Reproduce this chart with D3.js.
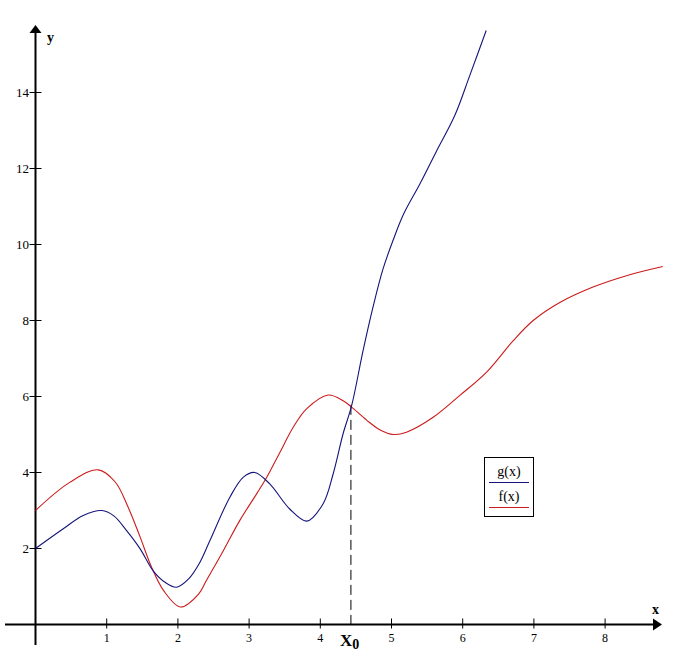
<!DOCTYPE html>
<html>
<head>
<meta charset="utf-8">
<script src="https://cdn.jsdelivr.net/npm/d3@7"></script>
<style>
  body { margin: 0; background: #fff; }
  svg { display: block; }
  .lbl { font-family: "Liberation Serif", "Times New Roman", serif; fill: #000; }
</style>
</head>
<body>
<div id="chart"></div>
<script>
// g(x), blue curve
var gX = [0, 0.39, 0.67, 0.93, 1.10, 1.28, 1.47, 1.65, 1.82, 1.98, 2.15, 2.31, 2.45, 2.73, 2.92, 3.08,
  3.29, 3.57, 3.81, 4.04, 4.18, 4.32, 4.44, 4.60, 4.74, 4.88, 5.03, 5.17, 5.40, 5.63, 5.89, 6.10, 6.33];
var gY = [2.0, 2.52, 2.87, 3.0, 2.86, 2.47, 1.99, 1.42, 1.11, 0.98, 1.2, 1.64, 2.21, 3.35, 3.88, 4.0,
  3.70, 3.04, 2.72, 3.18, 3.96, 5.02, 5.76, 7.2, 8.35, 9.35, 10.15, 10.8, 11.6, 12.45, 13.4, 14.45, 15.63];

// f(x), red curve
var fX = [0, 0.48, 0.88, 1.12, 1.30, 1.47, 1.63, 1.80, 2.04, 2.29, 2.40, 2.64, 2.87, 3.11, 3.25, 3.43,
  3.62, 3.81, 4.11, 4.32, 4.44, 4.65, 4.84, 5.03, 5.21, 5.59, 5.96, 6.34, 6.71, 6.99, 7.37, 7.83, 8.30, 8.81];
var fY = [3.0, 3.74, 4.07, 3.75, 3.09, 2.30, 1.51, 0.89, 0.46, 0.8, 1.16, 1.95, 2.74, 3.45, 3.88, 4.52,
  5.19, 5.68, 6.04, 5.89, 5.72, 5.38, 5.12, 5.0, 5.06, 5.46, 6.03, 6.65, 7.47, 8.0, 8.48, 8.88, 9.18, 9.42];

var xTicks = [1, 2, 3, 4, 5, 6, 7, 8];
var yTicks = [2, 4, 6, 8, 10, 12, 14];

// crossing point of the two curves
var x0 = 4.43;
var y0 = 5.78;

var legendItems = [
  { name: 'g(x)', color: '#14147a' },
  { name: 'f(x)', color: '#cc1a1a' }
];

var width = 684, height = 660;

var svg = d3.select('#chart').append('svg')
  .attr('width', width)
  .attr('height', height);

var x = d3.scaleLinear().domain([0, 8]).range([35.5, 605.1]);
var y = d3.scaleLinear().domain([0, 14]).range([624.5, 92.5]);

// axes
svg.append('line')
  .attr('x1', 5).attr('y1', y(0))
  .attr('x2', 656).attr('y2', y(0))
  .attr('stroke', '#000').attr('stroke-width', 2);
svg.append('path')
  .attr('d', 'M662,' + y(0) + 'L653,' + (y(0) - 6) + 'L653,' + (y(0) + 6) + 'Z')
  .attr('fill', '#000');

svg.append('line')
  .attr('x1', x(0)).attr('y1', 645)
  .attr('x2', x(0)).attr('y2', 31)
  .attr('stroke', '#000').attr('stroke-width', 2);
svg.append('path')
  .attr('d', 'M' + x(0) + ',25L' + (x(0) - 6) + ',33L' + (x(0) + 6) + ',33Z')
  .attr('fill', '#000');

// ticks
svg.selectAll('.xtick').data(xTicks).enter().append('line')
  .attr('x1', function (d) { return x(d); })
  .attr('x2', function (d) { return x(d); })
  .attr('y1', y(0) - 6).attr('y2', y(0) + 4)
  .attr('stroke', '#000').attr('stroke-width', 1);
svg.selectAll('.xlab').data(xTicks).enter().append('text')
  .attr('class', 'lbl')
  .attr('x', function (d) { return x(d); })
  .attr('y', 642)
  .attr('text-anchor', 'middle')
  .attr('font-size', 12)
  .text(function (d) { return d; });

svg.selectAll('.ytick').data(yTicks).enter().append('line')
  .attr('x1', x(0) - 6).attr('x2', x(0) + 6)
  .attr('y1', function (d) { return y(d); })
  .attr('y2', function (d) { return y(d); })
  .attr('stroke', '#000').attr('stroke-width', 1);
svg.selectAll('.ylab').data(yTicks).enter().append('text')
  .attr('class', 'lbl')
  .attr('x', 29)
  .attr('y', function (d) { return y(d) + 4.5; })
  .attr('text-anchor', 'end')
  .attr('font-size', 13)
  .text(function (d) { return d; });

svg.append('text').attr('class', 'lbl')
  .attr('x', 47).attr('y', 42)
  .attr('font-size', 14).attr('font-weight', 'bold')
  .text('y');
svg.append('text').attr('class', 'lbl')
  .attr('x', 652).attr('y', 614)
  .attr('font-size', 14).attr('font-weight', 'bold')
  .text('x');

// dashed drop line from the crossing point
svg.append('line')
  .attr('x1', x(x0)).attr('x2', x(x0))
  .attr('y1', y(y0)).attr('y2', y(0))
  .attr('stroke', '#000').attr('stroke-width', 1)
  .attr('stroke-dasharray', '10,5');

var x0Label = svg.append('text').attr('class', 'lbl')
  .attr('x', x(x0) - 11).attr('y', 646)
  .attr('font-size', 17).attr('font-weight', 'bold');
x0Label.append('tspan').text('X');
x0Label.append('tspan').attr('dy', 3).attr('font-size', 14).text('0');

// curves
var line = d3.line()
  .x(function (d) { return x(d[0]); })
  .y(function (d) { return y(d[1]); })
  .curve(d3.curveCatmullRom.alpha(0.5));

svg.append('path')
  .datum(d3.zip(fX, fY))
  .attr('d', line)
  .attr('fill', 'none')
  .attr('stroke', legendItems[1].color)
  .attr('stroke-width', 1.1);

svg.append('path')
  .datum(d3.zip(gX, gY))
  .attr('d', line)
  .attr('fill', 'none')
  .attr('stroke', legendItems[0].color)
  .attr('stroke-width', 1.1);

// legend
var legend = svg.append('g').attr('transform', 'translate(484,457)');
legend.append('rect')
  .attr('x', 0.5).attr('y', 0.5)
  .attr('width', 49).attr('height', 59)
  .attr('fill', '#fff').attr('stroke', '#000');
var item = legend.selectAll('.item').data(legendItems).enter().append('g')
  .attr('transform', function (d, i) { return 'translate(0,' + (i * 25) + ')'; });
item.append('text').attr('class', 'lbl')
  .attr('x', 25).attr('y', 19)
  .attr('text-anchor', 'middle')
  .attr('font-size', 14)
  .text(function (d) { return d.name; });
item.append('line')
  .attr('x1', 5).attr('x2', 45)
  .attr('y1', 25.5).attr('y2', 25.5)
  .attr('stroke', function (d) { return d.color; })
  .attr('stroke-width', 1);
</script>
</body>
</html>
